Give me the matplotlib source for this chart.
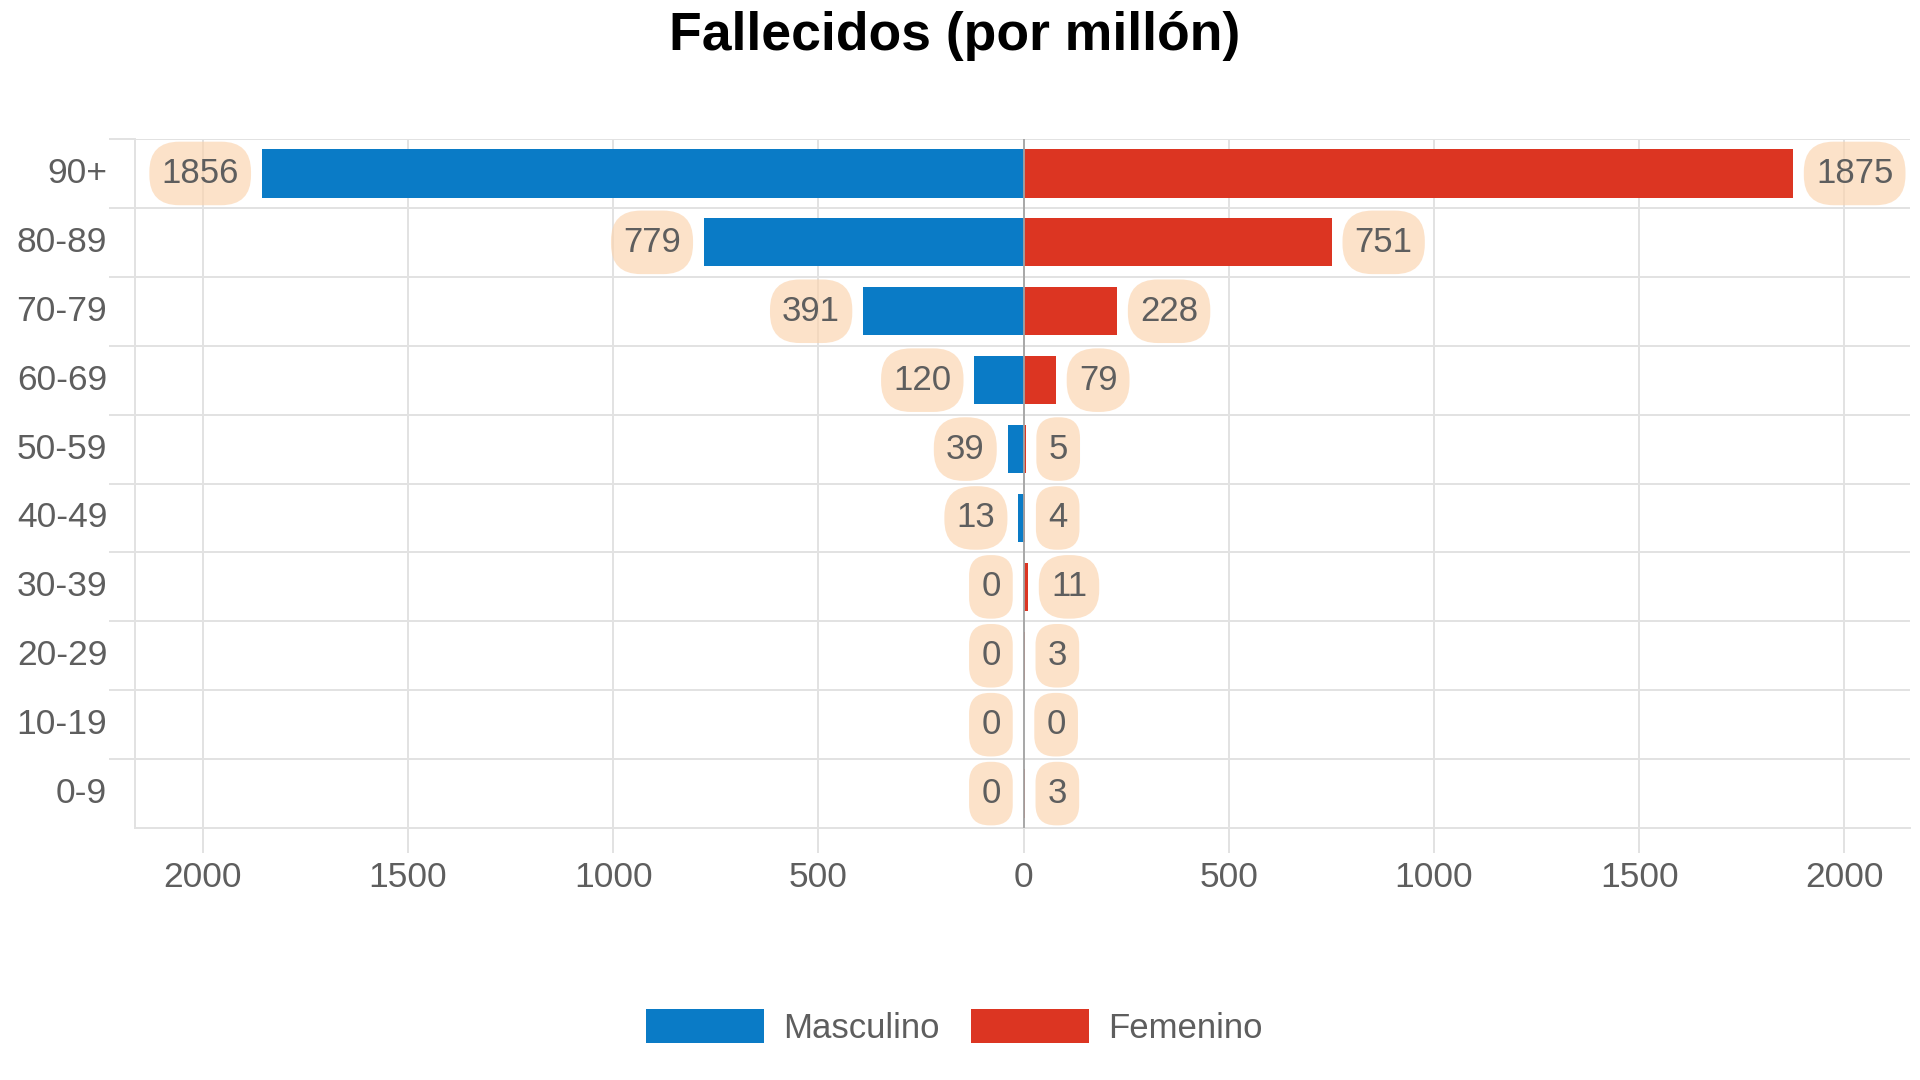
import numpy as np
import matplotlib
matplotlib.use("Agg")
import matplotlib.pyplot as plt
from matplotlib.patches import Patch
from matplotlib.path import Path

# --- datos ---
grupos = ['0-9', '10-19', '20-29', '30-39', '40-49', '50-59', '60-69', '70-79', '80-89', '90+']
masculino = [0, 0, 0, 0, 13, 39, 120, 391, 779, 1856]
femenino = [3, 0, 3, 11, 4, 5, 79, 228, 751, 1875]
ticks_x = [-2000, -1500, -1000, -500, 0, 500, 1000, 1500, 2000]

AZUL = '#0a7bc6'
ROJO = '#dc3522'
BURBUJA = '#fbd3ad'
GRIS_TXT = '#5e5e5e'
GRIS_GRID = '#e2e2e2'

plt.rcParams['font.family'] = ['Liberation Sans', 'DejaVu Sans']


def burbuja(x0, y0, width, height, mutation_size):
    # caja ovalada: mas relleno vertical que horizontal
    px, py = 0.35 * mutation_size, 0.44 * mutation_size
    x0, y0 = x0 - px, y0 - py
    x1, y1 = x0 + width + 2 * px, y0 + height + 2 * py
    r = 0.47 * min(x1 - x0, y1 - y0)
    verts = [(x0 + r, y0), (x1 - r, y0), (x1, y0), (x1, y0 + r),
             (x1, y1 - r), (x1, y1), (x1 - r, y1),
             (x0 + r, y1), (x0, y1), (x0, y1 - r),
             (x0, y0 + r), (x0, y0), (x0 + r, y0), (x0 + r, y0)]
    codes = [Path.MOVETO, Path.LINETO, Path.CURVE3, Path.CURVE3,
             Path.LINETO, Path.CURVE3, Path.CURVE3,
             Path.LINETO, Path.CURVE3, Path.CURVE3,
             Path.LINETO, Path.CURVE3, Path.CURVE3, Path.CLOSEPOLY]
    return Path(verts, codes)


fig = plt.figure(figsize=(19.2, 10.8), dpi=100)
ax = fig.add_axes([0.0703, 0.2333, 0.9245, 0.638])

y = np.arange(len(grupos))
ax.barh(y, [-v for v in masculino], height=0.7, color=AZUL, zorder=2)
ax.barh(y, femenino, height=0.7, color=ROJO, zorder=2)
ax.axvline(0, color='#a3a3a3', lw=1.3, zorder=4)

ax.set_xlim(-2165, 2160)
ax.set_ylim(-0.5, len(grupos) - 0.5)

# etiquetas en burbujas
caja = dict(boxstyle=burbuja, fc=BURBUJA, ec='none', alpha=0.65)
for i in range(len(grupos)):
    ax.annotate(str(masculino[i]), xy=(-masculino[i], i), xytext=(-16.5, 0),
                textcoords='offset points', ha='right', va='center',
                fontsize=25, color=GRIS_TXT, bbox=caja, zorder=3)
    ax.annotate(str(femenino[i]), xy=(femenino[i], i), xytext=(16.5, 0),
                textcoords='offset points', ha='left', va='center',
                fontsize=25, color=GRIS_TXT, bbox=caja, zorder=3)

# ejes y rejilla
ax.set_xticks(ticks_x)
ax.set_xticklabels([str(abs(t)) for t in ticks_x])
ax.set_yticks(y)
ax.set_yticklabels(grupos, va='center')
ax.set_yticks(np.arange(len(grupos)) + 0.5, minor=True)
ax.tick_params(axis='x', length=18, width=1.4, color=GRIS_GRID, pad=6,
               labelsize=25.5, labelcolor=GRIS_TXT)
ax.tick_params(axis='y', which='major', length=0, pad=20,
               labelsize=25.5, labelcolor=GRIS_TXT)
ax.tick_params(axis='y', which='minor', length=19, width=1.4, color=GRIS_GRID)
ax.grid(axis='x', which='major', color=GRIS_GRID, lw=1.4, zorder=0)
ax.grid(axis='y', which='minor', color=GRIS_GRID, lw=1.4, zorder=0)
ax.set_axisbelow(True)
for lado in ['top', 'right']:
    ax.spines[lado].set_visible(False)
for lado in ['left', 'bottom']:
    ax.spines[lado].set_color(GRIS_GRID)
    ax.spines[lado].set_linewidth(1.4)

fig.text(0.497, 0.967, 'Fallecidos (por millón)', ha='center', va='center',
         fontsize=38.5, fontweight='bold', color='black')

manejadores = [Patch(facecolor=AZUL, label='Masculino'),
               Patch(facecolor=ROJO, label='Femenino')]
fig.legend(handles=manejadores, loc='center', bbox_to_anchor=(0.497, 0.049),
           ncol=2, frameon=False, fontsize=25, labelcolor=GRIS_TXT,
           handlelength=3.4, handleheight=1.12, handletextpad=0.55,
           columnspacing=0.9)

fig.savefig('out.png', dpi=100, facecolor='white')
